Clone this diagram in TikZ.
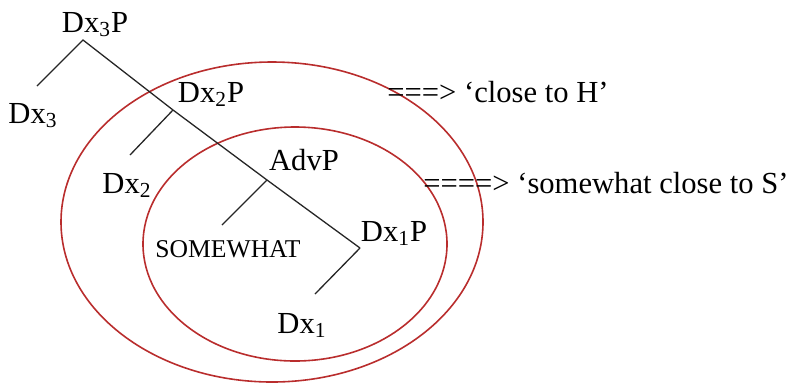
\documentclass[tikz,border=0pt]{standalone}
\usepackage{fontspec}
\setmainfont{Liberation Serif}
\usepackage{xcolor}
\definecolor{ringred}{RGB}{185,45,45}
\newcommand{\Dx}[1]{Dx\textsubscript{#1}}

\begin{document}
\begin{tikzpicture}[x=0.5pt,y=-0.5pt,font=\fontsize{15.3}{18}\selectfont,
  lbl/.style={inner sep=0pt,anchor=base},
  gloss/.style={inner sep=0pt,anchor=base west},
  branch/.style={line width=0.65pt,black!85},
  ring/.style={line width=0.8pt,draw=ringred}]
\useasboundingbox (0,0) rectangle (790,387);
% rings
\draw[ring] (272,222) ellipse [x radius=211,y radius=160];
\draw[ring] (295,244) ellipse [x radius=152,y radius=117];
% tree
\coordinate (p3) at (83,40);  \coordinate (h3) at (37,86);
\coordinate (p2) at (173,110); \coordinate (h2) at (130,155);
\coordinate (pa) at (267,180); \coordinate (ha) at (222,225);
\coordinate (p1) at (360,248); \coordinate (h1) at (315,294);
\draw[branch] (h3) -- (p3) -- (p2) -- (pa) -- (p1);
\draw[branch] (p2) -- (h2);
\draw[branch] (pa) -- (ha);
\draw[branch] (p1) -- (h1);
% labels
\node[lbl] (dx3p) at (95,32) {\Dx{3}P};
\node[lbl] (dx3) at (33,123) {\Dx{3}};
\node[lbl] (dx2p) at (211,102) {\Dx{2}P};
\node[lbl] (dx2) at (127,193) {\Dx{2}};
\node[lbl] (advp) at (304,170) {AdvP};
\node[lbl,font=\fontsize{12.8}{15}\selectfont] (sw) at (228,257) {SOMEWHAT};
\node[lbl] (dx1p) at (394,241) {\Dx{1}P};
\node[lbl] (dx1) at (302,333) {\Dx{1}};
% readings
\node[gloss] (gh) at (387,102) {===> `close to H'};
\node[gloss] (gs) at (423,193) {====> `somewhat close to S'};
\end{tikzpicture}
\end{document}
